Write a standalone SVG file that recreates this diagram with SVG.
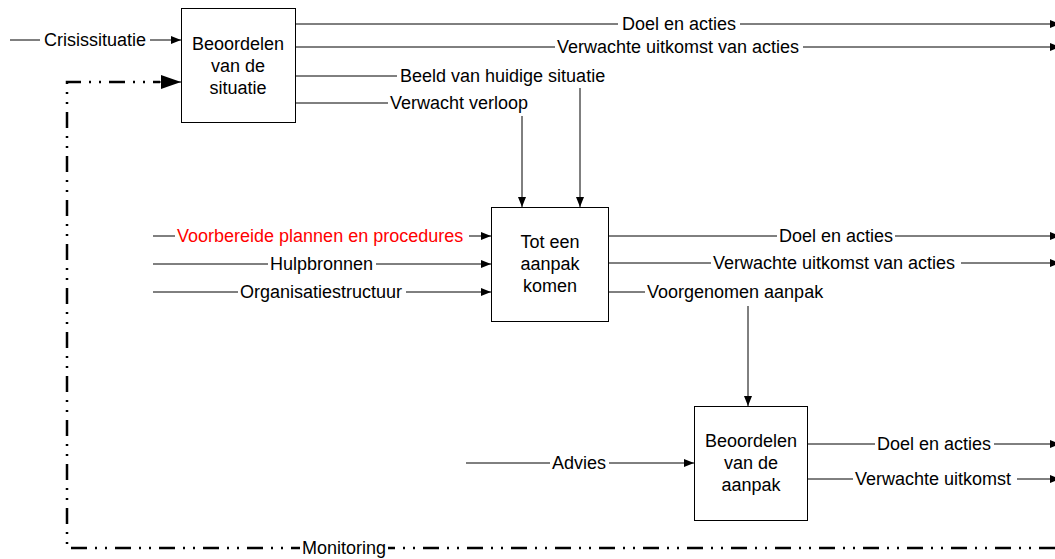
<svg xmlns="http://www.w3.org/2000/svg" width="1055" height="559" viewBox="0 0 1055 559">
<style>
text{font-family:"Liberation Sans",Arial,sans-serif;font-size:18px;fill:#000}
.c{text-anchor:middle}
.red{fill:#ff0000}
.box{fill:#fff;stroke:#000;stroke-width:1}
.ln{stroke:#000;stroke-width:1;fill:none}
.mon{stroke:#000;stroke-width:2.5;fill:none;stroke-dasharray:16 8 2 8 2 8}
</style>
<defs>
<marker id="ah" viewBox="0 0 10 10" refX="10" refY="5" markerWidth="10" markerHeight="10" markerUnits="userSpaceOnUse" orient="auto">
<path d="M0,1 L10,5 L0,9 Z" fill="#000"/>
</marker>
<marker id="ahb" viewBox="0 0 20 16" refX="20" refY="8" markerWidth="20" markerHeight="16" markerUnits="userSpaceOnUse" orient="auto">
<path d="M0,1 L20,8 L0,15 Z" fill="#000"/>
</marker>
</defs>
<rect width="1055" height="559" fill="#fff"/>
<g id="connectors">
<!-- Crisissituatie -->
<line class="ln" x1="10" y1="40" x2="40" y2="40"/>
<line class="ln" x1="150" y1="40" x2="181" y2="40" marker-end="url(#ah)"/>
<!-- Box1 outputs -->
<line class="ln" x1="295" y1="24" x2="618" y2="24"/>
<line class="ln" x1="740" y1="24" x2="1060" y2="24" marker-end="url(#ah)"/>
<line class="ln" x1="295" y1="47" x2="555" y2="47"/>
<line class="ln" x1="803" y1="47" x2="1060" y2="47" marker-end="url(#ah)"/>
<line class="ln" x1="295" y1="76" x2="397" y2="76"/>
<line class="ln" x1="580" y1="88" x2="580" y2="207" marker-end="url(#ah)"/>
<line class="ln" x1="295" y1="103" x2="388" y2="103"/>
<line class="ln" x1="522" y1="116" x2="522" y2="207" marker-end="url(#ah)"/>
<!-- Box2 inputs -->
<line class="ln" x1="153" y1="236" x2="175" y2="236"/>
<line class="ln" x1="469" y1="236" x2="491" y2="236" marker-end="url(#ah)"/>
<line class="ln" x1="153" y1="264" x2="268" y2="264"/>
<line class="ln" x1="376" y1="264" x2="491" y2="264" marker-end="url(#ah)"/>
<line class="ln" x1="153" y1="292" x2="238" y2="292"/>
<line class="ln" x1="406" y1="292" x2="491" y2="292" marker-end="url(#ah)"/>
<!-- Box2 outputs -->
<line class="ln" x1="608" y1="236" x2="777" y2="236"/>
<line class="ln" x1="895" y1="236" x2="1060" y2="236" marker-end="url(#ah)"/>
<line class="ln" x1="608" y1="263" x2="711" y2="263"/>
<line class="ln" x1="961" y1="263" x2="1060" y2="263" marker-end="url(#ah)"/>
<line class="ln" x1="608" y1="292" x2="645" y2="292"/>
<line class="ln" x1="748" y1="306" x2="748" y2="406" marker-end="url(#ah)"/>
<!-- Box3 -->
<line class="ln" x1="466" y1="463" x2="550" y2="463"/>
<line class="ln" x1="609" y1="463" x2="694" y2="463" marker-end="url(#ah)"/>
<line class="ln" x1="807" y1="444" x2="875" y2="444"/>
<line class="ln" x1="994" y1="444" x2="1060" y2="444" marker-end="url(#ah)"/>
<line class="ln" x1="807" y1="479" x2="853" y2="479"/>
<line class="ln" x1="1017" y1="479" x2="1060" y2="479" marker-end="url(#ah)"/>
<!-- Monitoring -->
<path class="mon" d="M1055,548 L67,548 L67,82 L160,82"/>
<line x1="158" y1="82" x2="181" y2="82" stroke="#000" stroke-width="1" marker-end="url(#ahb)"/>
<rect x="300" y="538" width="88" height="20" fill="#fff"/>
</g>
<g id="labels">
<text x="44" y="46">Crisissituatie</text>
<text x="622" y="30">Doel en acties</text>
<text x="557" y="53">Verwachte uitkomst van acties</text>
<text x="400" y="82">Beeld van huidige situatie</text>
<text x="390" y="109">Verwacht verloop</text>
<text class="red" x="177" y="242">Voorbereide plannen en procedures</text>
<text x="270" y="270">Hulpbronnen</text>
<text x="240" y="298">Organisatiestructuur</text>
<text x="779" y="242">Doel en acties</text>
<text x="713" y="269">Verwachte uitkomst van acties</text>
<text x="647" y="298">Voorgenomen aanpak</text>
<text x="552" y="469">Advies</text>
<text x="877" y="450">Doel en acties</text>
<text x="855" y="485">Verwachte uitkomst</text>
<text x="302" y="554">Monitoring</text>
</g>
<g id="node-beoordelen-situatie">
<rect class="box" x="181.5" y="8.5" width="114" height="114"/>
<text class="c" x="238" y="50">Beoordelen</text>
<text class="c" x="238" y="72">van de</text>
<text class="c" x="238" y="94">situatie</text>
</g>
<g id="node-tot-een-aanpak">
<rect class="box" x="491.5" y="207.5" width="117" height="114"/>
<text class="c" x="550" y="248">Tot een</text>
<text class="c" x="550" y="270">aanpak</text>
<text class="c" x="550" y="292">komen</text>
</g>
<g id="node-beoordelen-aanpak">
<rect class="box" x="694.5" y="406.5" width="113" height="114"/>
<text class="c" x="751" y="447">Beoordelen</text>
<text class="c" x="751" y="469">van de</text>
<text class="c" x="751" y="491">aanpak</text>
</g>
</svg>
